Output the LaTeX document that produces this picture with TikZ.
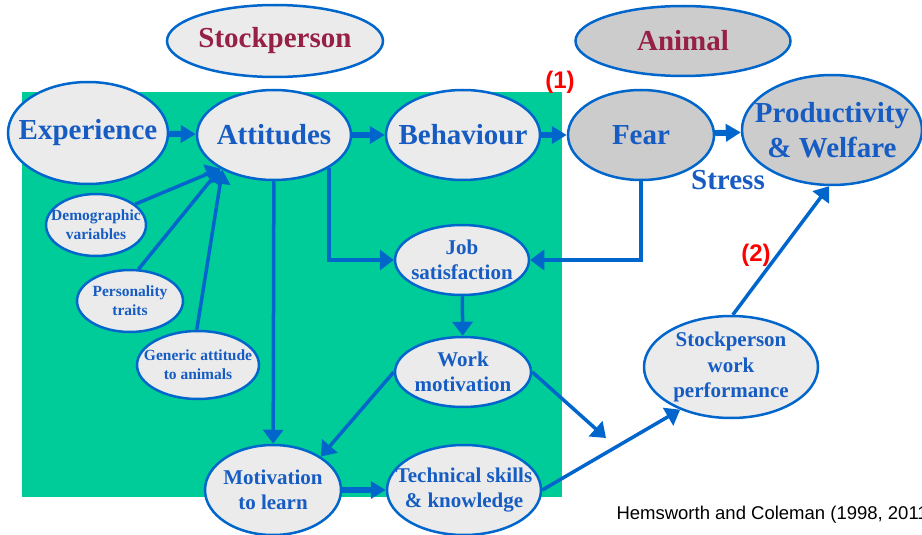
\documentclass[tikz,border=0pt]{standalone}
\usepackage{fontspec}
\setmainfont{Liberation Serif}
\newfontfamily\citefont{Liberation Sans}
\usetikzlibrary{shapes.geometric,arrows.meta}
\definecolor{lineblue}{RGB}{0,102,204}
\definecolor{textblue}{RGB}{22,92,194}
\definecolor{headred}{RGB}{150,32,70}
\definecolor{boxgreen}{RGB}{0,204,153}
\definecolor{paleg}{RGB}{235,235,235}
\definecolor{darkg}{RGB}{204,204,204}
\begin{document}
\begin{tikzpicture}[x=1pt, y=-1pt,
    oval/.style={ellipse, draw=lineblue, line width=2.5pt, fill=paleg, inner sep=-40pt,
        text=textblue, font=\bfseries, align=center},
    animal/.style={oval, fill=darkg},
    big/.style={font=\fontsize{29}{35}\selectfont\bfseries},
    mid/.style={font=\fontsize{21}{25.5}\selectfont\bfseries},
    small/.style={font=\fontsize{15.5}{19}\selectfont\bfseries},
    link/.style={draw=lineblue, line width=3.5pt, -{Triangle[length=14pt,width=20pt]}},
    thick link/.style={draw=lineblue, line width=6pt, -{Triangle[length=15pt,width=17pt]}},
    tag/.style={text=red, font=\citefont\fontsize{24}{28}\selectfont\bfseries}]
    \useasboundingbox (0,0) rectangle (922,535);
    \fill[boxgreen] (22,92) rectangle (562,497);

    \node[oval, big, text=headred, minimum width=216pt, minimum height=72pt] (sp) at (275,41) {Stockperson};
    \node[animal, big, text=headred, minimum width=215pt, minimum height=70pt] (an) at (683,41) {Animal};

    \node[oval, big, minimum width=160pt, minimum height=102pt] (exp) at (88,133) {Experience};
    \node[oval, big, minimum width=154pt, minimum height=90pt] (att) at (274,135) {Attitudes};
    \node[oval, big, minimum width=154pt, minimum height=90pt] (beh) at (463,135) {Behaviour};
    \node[animal, big, minimum width=146pt, minimum height=90pt] (fear) at (641,135) {Fear};
    \node[animal, big, minimum width=180pt, minimum height=110pt] (prod) at (832,130) {Productivity\\\& Welfare};

    \node[oval, small, minimum width=100pt, minimum height=62pt] (dem) at (96,225) {Demographic\\variables};
    \node[oval, small, minimum width=106pt, minimum height=62pt] (pers) at (130,301) {Personality\\traits};
    \node[oval, small, minimum width=122pt, minimum height=68pt] (gen) at (198,365) {Generic attitude\\to animals};

    \node[oval, mid, minimum width=134pt, minimum height=70pt] (job) at (462,260) {Job\\satisfaction};
    \node[oval, mid, minimum width=136pt, minimum height=70pt] (wm) at (463,372) {Work\\motivation};
    \node[oval, mid, minimum width=136pt, minimum height=90pt] (ml) at (273,490) {Motivation\\to learn};
    \node[oval, mid, minimum width=154pt, minimum height=90pt] (tech) at (464,490) {Technical skills\\\& knowledge};
    \node[oval, mid, minimum width=174pt, minimum height=102pt] (swp) at (731,367) {Stockperson\\work\\performance};

    \node[text=textblue, big] (stress) at (728,180) {Stress};
    \node[tag] (t1) at (560,82) {(1)};
    \node[tag] (t2) at (756,255) {(2)};
    \node[font=\citefont\fontsize{18.5}{22}\selectfont, anchor=west] (cite) at (613,515) {Hemsworth and Coleman (1998, 2011)};

    \coordinate (gap) at (606,438);

    \draw[thick link] (exp) -- (att);
    \draw[thick link] (att) -- (beh);
    \draw[thick link] (beh) -- (fear);
    \draw[thick link] (fear) -- (prod);
    \draw[thick link] (ml) -- (tech);

    \draw[link] (dem.28) -- (att.212);
    \draw[link] (pers.75) -- (att.212);
    \draw[link] (gen.92) -- (att.214);
    \draw[link] (att) -- (ml);
    \draw[link] (att.-31) |- (job);
    \draw[link] (fear) |- (job);
    \draw[link] (job) -- (wm);
    \draw[link] (wm.west) -- (ml.35);
    \draw[link] (wm.east) -- (gap);
    \draw[link] (tech.east) -- (swp.-140);
    \draw[link] (swp.88) -- (prod.-93);
\end{tikzpicture}
\end{document}
